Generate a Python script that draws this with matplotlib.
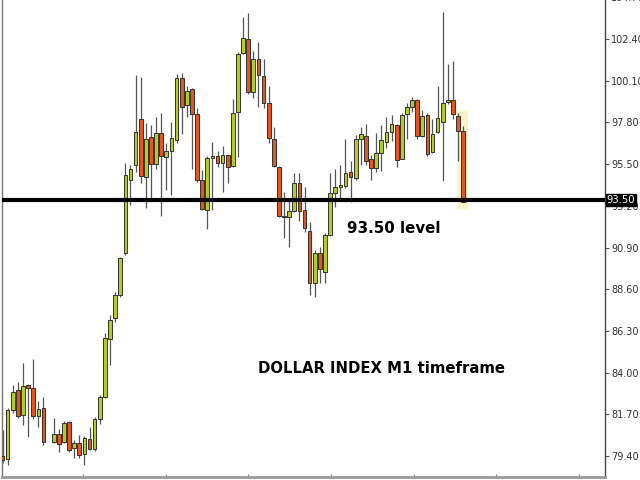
import numpy as np
import matplotlib
matplotlib.use('Agg')
import matplotlib.pyplot as plt
from matplotlib.patches import Rectangle

# DOLLAR INDEX M1 candles (nan = empty slot)
opens = [79.40, 79.23, 81.94, 83.04, 81.66, 83.32, 83.15, 81.61, 82.05, np.nan,
         80.17, 80.61, 80.17, 81.28, 79.84, 80.12, 79.51, 80.34, 79.79, 81.44,
         82.66, 85.86, 87.02, 88.29, 90.61, 94.64, 95.46, 98.00, 94.80, 97.01,
         95.52, 97.23, 95.90, 96.23, 96.84, 100.27, 98.78, 99.66, 98.28, 94.64,
         92.98, 95.85, 95.96, 95.57, 96.01, 95.41, 98.39, 101.65, 102.42, 99.49,
         101.31, 100.38, 98.89, 96.90, 95.35, 92.65, 92.59, 92.92, 94.47, 92.98,
         91.82, 88.95, 90.61, 89.56, 91.60, 93.92, 94.25, 94.30, 95.08, 94.75,
         96.90, 97.06, 95.79, 95.30, 96.12, 96.73, 97.28, 97.67, 95.79, 98.28,
         98.66, 99.05, 97.06, 98.22, 96.18, 97.28, 97.84, 98.94, 99.05, 98.17,
         97.34]
highs = [80.83, 82.05, 83.32, 83.48, 84.53, 83.35, 84.75, 82.44, 82.66, np.nan,
         81.50, 80.89, 81.33, 81.33, 80.28, 80.56, 80.50, 81.00, 81.55, 82.77,
         86.19, 87.18, 88.45, 90.39, 95.57, 95.46, 100.43, 100.32, 97.78, 97.67,
         98.11, 98.33, 96.68, 97.84, 100.49, 100.54, 99.82, 99.71, 98.61, 95.19,
         95.96, 96.73, 96.23, 96.51, 96.01, 99.11, 101.70, 103.63, 103.85, 101.76,
         102.25, 101.31, 99.82, 97.56, 95.41, 93.97, 93.53, 95.02, 95.02, 94.25,
         92.32, 90.77, 90.94, 91.71, 95.02, 95.24, 95.46, 96.90, 95.68, 97.12,
         97.56, 97.73, 96.01, 97.23, 97.67, 98.11, 98.22, 97.73, 98.33, 98.89,
         99.22, 99.11, 98.50, 98.33, 98.00, 99.82, 103.91, 101.04, 101.20, 98.33,
         97.62]
lows = [79.01, 78.90, 81.77, 81.50, 81.11, 80.45, 81.44, 81.00, 80.01, np.nan,
        80.12, 79.62, 80.12, 79.62, 79.29, 79.29, 78.90, 79.73, 79.68, 81.17,
        82.60, 84.42, 86.80, 88.18, 90.50, 93.26, 95.08, 94.47, 93.09, 93.59,
        95.24, 92.65, 94.08, 93.81, 96.68, 97.17, 98.11, 95.24, 94.53, 92.98,
        91.93, 92.98, 95.35, 93.97, 94.47, 95.35, 95.90, 101.59, 99.38, 99.16,
        98.66, 98.61, 96.68, 95.35, 92.59, 91.43, 90.94, 92.87, 92.37, 91.76,
        88.29, 88.18, 88.95, 88.95, 91.55, 93.15, 93.59, 94.19, 93.42, 94.64,
        95.46, 95.46, 94.64, 95.08, 95.13, 96.40, 96.79, 95.35, 95.79, 96.90,
        98.39, 96.90, 97.01, 95.96, 96.12, 97.23, 94.58, 98.83, 98.00, 95.68,
        93.42]
closes = [79.18, 81.94, 82.93, 81.61, 83.26, 83.15, 81.61, 81.99, 80.17, np.nan,
          80.61, 80.06, 81.22, 79.73, 80.12, 79.46, 80.39, 79.79, 81.44, 82.66,
          85.91, 86.91, 88.29, 90.33, 94.91, 95.24, 97.28, 94.86, 96.90, 95.52,
          97.23, 95.96, 96.23, 96.95, 100.27, 98.66, 99.55, 98.28, 94.64, 93.03,
          95.85, 95.96, 95.57, 96.01, 95.35, 98.33, 101.59, 102.47, 99.49, 101.31,
          100.43, 98.89, 96.95, 95.41, 92.65, 92.59, 92.92, 94.47, 92.92, 92.00,
          88.95, 90.61, 89.72, 91.60, 93.92, 94.25, 94.36, 95.02, 94.80, 96.90,
          97.17, 95.68, 95.30, 96.12, 96.84, 97.28, 97.73, 95.74, 98.22, 98.66,
          99.05, 97.06, 98.17, 96.07, 97.17, 98.06, 98.89, 99.05, 98.28, 97.34,
          93.42]
level = 93.50
yticks = [79.40, 81.70, 84.00, 86.30, 88.60, 90.90, 93.20, 95.50, 97.80, 100.10, 102.40, 104.70]

o = np.array(opens)
h = np.array(highs)
l = np.array(lows)
c = np.array(closes)
x = np.arange(len(o))

up_col = '#B5CC1C'
dn_col = '#E8541E'

fig = plt.figure(figsize=(6.4, 4.8), dpi=100)
ax = fig.add_axes([2 / 640, 3 / 480, 603 / 640, 1.0])

ok = ~np.isnan(o)
ax.vlines(x[ok], l[ok], h[ok], color='#555555', linewidth=0.9, zorder=2)
body_lo = np.minimum(o, c)
body_h = np.maximum(np.abs(c - o), 0.06)
cols = np.where(c >= o, up_col, dn_col)
ax.bar(x[ok], body_h[ok], bottom=body_lo[ok], width=0.72, color=cols[ok],
       edgecolor='#333333', linewidth=0.7, zorder=3)

# highlight around last two candles
last = slice(len(o) - 2, len(o))
ax.add_patch(Rectangle((x[last][0] - 0.3, l[last].min() - 0.4), 2.2,
                       h[last].max() - l[last].min() + 0.5,
                       facecolor='#FAF3C8', edgecolor='none', zorder=1))

ax.axhline(level, color='black', linewidth=3, zorder=4)
ax.text(1.003, level, '%.2f' % level, transform=ax.get_yaxis_transform(),
        va='center', ha='left', fontsize=7.2, color='white', zorder=6, clip_on=False,
        bbox=dict(boxstyle='square,pad=0.1', facecolor='black', edgecolor='black'))

ax.text(x[64] + 3.3, 91.72, '93.50 level', fontsize=10.8, fontweight='bold', color='black')
ax.text(x[50], 83.95, 'DOLLAR INDEX M1 timeframe', fontsize=10.7, fontweight='bold',
        color='black')

ax.set_xlim(-0.1, 117.7)
ax.set_ylim(78.24, 104.72)
ax.yaxis.tick_right()
ax.set_yticks(yticks)
ax.set_yticklabels(['%.2f' % v for v in yticks])
ax.tick_params(axis='y', length=3, width=0.8, colors='#555555', labelcolor='#333333',
               labelsize=7, pad=1.5)
ax.set_xticks([15.7, 31.9, 48.0, 64.2, 80.3, 96.5, 112.7])
ax.set_xticklabels([])
ax.tick_params(axis='x', length=2, direction='in', colors='#888888')

ax.spines['top'].set_visible(False)
ax.spines['left'].set_color('#777777')
ax.spines['left'].set_linewidth(1)
ax.spines['right'].set_color('#444444')
ax.spines['right'].set_linewidth(1)
ax.spines['bottom'].set_color('#999999')
ax.spines['bottom'].set_linewidth(2)

fig.savefig('out.png', dpi=100)
